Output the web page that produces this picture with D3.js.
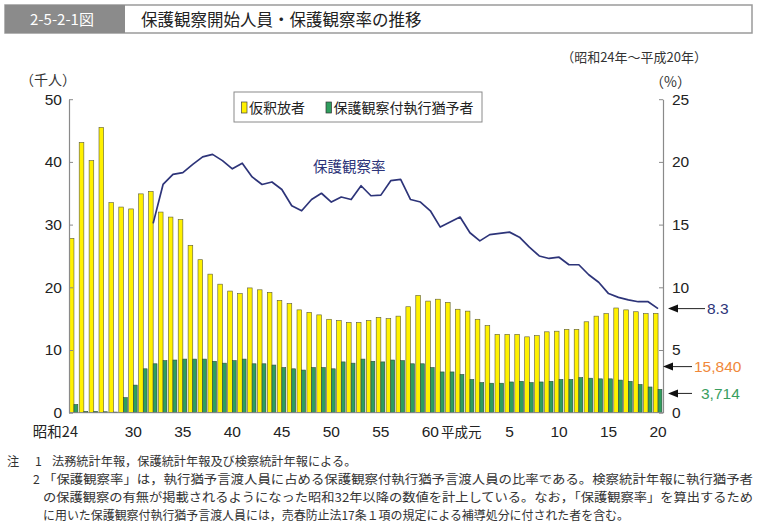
<!DOCTYPE html>
<html><head><meta charset="utf-8">
<script src="https://cdn.jsdelivr.net/npm/d3@7"></script>
<style>
body{margin:0;background:#fff;}
svg{display:block;}
</style></head>
<body>
<svg id="chart" width="759" height="524"></svg>
<script>
// ---- data ----
const years = [1949,1950,1951,1952,1953,1954,1955,1956,1957,1958,1959,1960,1961,1962,1963,1964,1965,1966,1967,1968,1969,1970,1971,1972,1973,1974,1975,1976,1977,1978,1979,1980,1981,1982,1983,1984,1985,1986,1987,1988,1989,1990,1991,1992,1993,1994,1995,1996,1997,1998,1999,2000,2001,2002,2003,2004,2005,2006,2007,2008];
// 仮釈放者 (千人)
const parolees = [27.8,43.1,40.2,45.5,33.5,32.8,32.5,34.9,35.3,32.0,31.2,30.8,26.7,24.4,22.1,20.5,19.4,19.0,19.9,19.6,19.2,17.9,17.4,16.4,16.0,15.6,14.9,14.7,14.4,14.4,14.7,15.2,15.0,15.4,16.9,18.7,17.8,18.1,17.6,16.5,16.2,14.9,13.9,12.5,12.5,12.5,12.1,12.3,12.9,13.0,13.3,13.3,14.5,15.4,15.8,16.7,16.4,16.1,15.8,15.84];
// 保護観察付執行猶予者 (千人)
const probationers = [1.3,0.2,0.2,0.15,0.1,2.4,4.4,7.0,7.8,8.3,8.4,8.55,8.55,8.55,8.2,7.9,8.3,8.55,7.8,7.8,7.6,7.2,7.0,6.8,7.2,7.2,7.0,8.1,7.9,8.55,8.2,8.1,8.4,8.3,7.8,7.8,7.2,6.5,6.5,6.1,5.3,4.8,4.7,4.7,4.9,5.0,4.8,4.9,5.0,5.3,5.3,5.6,5.5,5.4,5.4,5.2,5.0,4.5,4.1,3.714];
// 保護観察率 (%)
const rate = [null,null,null,null,null,null,null,null,15.1,18.2,19.0,19.15,19.8,20.4,20.6,20.1,19.45,19.9,18.8,18.2,18.4,17.8,16.5,16.1,17.0,17.5,16.8,17.2,17.0,18.1,17.3,17.35,18.5,18.6,17.0,16.8,16.1,14.8,15.2,15.6,14.35,13.7,14.2,14.3,14.4,14.0,13.2,12.5,12.3,12.4,11.8,11.8,11.0,10.4,9.5,9.2,9.0,8.85,8.85,8.3];
// x tick labels
const xTickYears = [1949,1955,1960,1965,1970,1975,1980,1985,1989,1993,1998,2003,2008];
const xTickLabels = ["昭和24","30","35","40","45","50","55","60","平成元","5","10","15","20"];
const leftTicks = [0,10,20,30,40,50];
const rightTicks = [0,5,10,15,20,25];
const seriesNames = ["仮釈放者","保護観察付執行猶予者"];
const lineName = "保護観察率";
const finalLabels = ["8.3","15,840","3,714"];
const title = "保護観察開始人員・保護観察率の推移";
const figNo = "2-5-2-1図";
const period = "（昭和24年～平成20年）";
const notes = [
  "法務統計年報，保護統計年報及び検察統計年報による。",
  "「保護観察率」は，執行猶予言渡人員に占める保護観察付執行猶予言渡人員の比率である。検察統計年報に執行猶予者",
  "の保護観察の有無が掲載されるようになった昭和32年以降の数値を計上している。なお，「保護観察率」を算出するため",
  "に用いた保護観察付執行猶予言渡人員には，売春防止法17条１項の規定による補導処分に付された者を含む。"
];

// ---- layout ----
const svg = d3.select("#chart");
const L = 69, R = 663, T = 99.2, B = 412.7;
const NUM = "'Liberation Sans', Arial, sans-serif";
const JP = "'Noto Sans CJK JP', sans-serif";
const YELLOW = "#fff100", GREEN = "#2f9e5e", NAVY = "#2d3479";

const x = d3.scaleBand().domain(years).range([L, R]).padding(0);
const bw = x.bandwidth();
const y = d3.scaleLinear().domain([0, 50]).range([B, T]);
const y2 = d3.scaleLinear().domain([0, 25]).range([B, T]);

// title bar
svg.append("rect").attr("x",5).attr("y",5).attr("width",747).attr("height",28)
  .attr("fill","#fff").attr("stroke","#9a9a9a").attr("stroke-width",1.5);
svg.append("rect").attr("x",5).attr("y",5).attr("width",120).attr("height",28).attr("fill","#8b8b8b");
svg.append("text").attr("x",62).attr("y",25).attr("text-anchor","middle")
  .attr("font-family",JP).attr("font-size",15).attr("fill","#fff").text(figNo);
svg.append("text").attr("x",141).attr("y",25.5)
  .attr("font-family",JP).attr("font-size",16.5).attr("fill","#222").text(title);

svg.append("text").attr("x",707).attr("y",62).attr("text-anchor","end")
  .attr("font-family",JP).attr("font-size",13).attr("fill","#333").text(period);
svg.append("text").attr("x",20).attr("y",85)
  .attr("font-family",JP).attr("font-size",14).attr("fill","#333").text("（千人）");
svg.append("text").attr("x",650).attr("y",87)
  .attr("font-family",JP).attr("font-size",14).attr("fill","#333").text("（%）");

// bars
const gBars = svg.append("g");
gBars.selectAll("rect.y").data(years).enter().append("rect")
  .attr("x", d => x(d) + 0.3)
  .attr("width", bw * 0.47)
  .attr("y", (d,i) => y(parolees[i]))
  .attr("height", (d,i) => B - y(parolees[i]))
  .attr("fill", YELLOW).attr("stroke","#5a5a3a").attr("stroke-width",0.6);
gBars.selectAll("rect.g").data(years).enter().append("rect")
  .attr("x", d => x(d) + bw * 0.5)
  .attr("width", bw * 0.39)
  .attr("y", (d,i) => y(probationers[i]))
  .attr("height", (d,i) => B - y(probationers[i]))
  .attr("fill", GREEN).attr("stroke","#2f4a3a").attr("stroke-width",0.6);

// axes
const axL = svg.append("g").attr("transform",`translate(${L},0)`)
  .call(d3.axisLeft(y).tickValues(leftTicks).tickSizeInner(-4).tickSizeOuter(0).tickPadding(7));
const axR = svg.append("g").attr("transform",`translate(${R},0)`)
  .call(d3.axisRight(y2).tickValues(rightTicks).tickSizeInner(-4).tickSizeOuter(0).tickPadding(9));
[axL, axR].forEach(a => {
  a.select(".domain").attr("stroke","#8a8a8a").attr("stroke-width",1.2);
  a.selectAll(".tick line").attr("stroke","#8a8a8a");
  a.selectAll(".tick text").attr("font-family",NUM).attr("font-size",15.5).attr("fill","#222");
});
svg.append("line").attr("x1",L).attr("x2",R).attr("y1",B).attr("y2",B)
  .attr("stroke","#8a8a8a").attr("stroke-width",1);

// x labels
const cx = d => x(d) + bw / 2;
xTickYears.forEach((yr, i) => {
  const lab = xTickLabels[i];
  const t = svg.append("text").attr("y", 437).attr("fill","#222").text(lab);
  if (lab === "昭和24") {
    t.attr("x", cx(yr) + 4).attr("text-anchor","end").attr("font-family",JP).attr("font-size",14.5);
  } else if (lab === "平成元") {
    t.attr("x", cx(yr) - 29).attr("text-anchor","start").attr("font-family",JP).attr("font-size",13.5);
  } else {
    t.attr("x", cx(yr)).attr("text-anchor","middle").attr("font-family",NUM).attr("font-size",15.5);
  }
});

// line
const lineGen = d3.line().defined(d => d[1] != null).x(d => cx(d[0])).y(d => y2(d[1]));
svg.append("path").datum(years.map((yr,i) => [yr, rate[i]]))
  .attr("d", lineGen).attr("fill","none").attr("stroke",NAVY).attr("stroke-width",1.7)
  .attr("stroke-linejoin","round");
svg.append("text").attr("x",313).attr("y",172).attr("font-family",JP).attr("font-size",14.5)
  .attr("fill",NAVY).text(lineName);

// legend
svg.append("rect").attr("x",234).attr("y",92).attr("width",248).attr("height",30)
  .attr("fill","#fff").attr("stroke","#8a8a8a").attr("stroke-width",1);
svg.append("rect").attr("x",241.5).attr("y",102).attr("width",5.5).attr("height",11)
  .attr("fill",YELLOW).attr("stroke","#444").attr("stroke-width",0.7);
svg.append("text").attr("x",249).attr("y",112.5).attr("font-family",JP).attr("font-size",14)
  .attr("fill","#222").text(seriesNames[0]);
svg.append("rect").attr("x",326).attr("y",102).attr("width",5.5).attr("height",11)
  .attr("fill",GREEN).attr("stroke","#333").attr("stroke-width",0.7);
svg.append("text").attr("x",333.5).attr("y",112.5).attr("font-family",JP).attr("font-size",14)
  .attr("fill","#222").text(seriesNames[1]);

// end annotations
const last = years.length - 1;
const ann = [
  {yy: y2(rate[last]), tip: 668, tail: 705, tx: 707, color: NAVY, label: finalLabels[0]},
  {yy: y2(rate[last]) + 58, tip: 663, tail: 692, tx: 694, color: "#f0883a", label: finalLabels[1]},
  {yy: y(probationers[last]) + 4, tip: 668, tail: 692, tx: 701, color: "#3a9e5f", label: finalLabels[2]}
];
ann.forEach(a => {
  svg.append("line").attr("x1",a.tip+8).attr("x2",a.tail).attr("y1",a.yy).attr("y2",a.yy)
    .attr("stroke","#222").attr("stroke-width",1);
  svg.append("path").attr("d",`M${a.tip},${a.yy} L${a.tip+10},${a.yy-4} L${a.tip+10},${a.yy+4} Z`)
    .attr("fill","#111");
  svg.append("text").attr("x",a.tx).attr("y",a.yy+5.5).attr("font-family",NUM).attr("font-size",15.5)
    .attr("fill",a.color).text(a.label);
});

// notes
const NOTEF = "'Noto Sans CJK JP', sans-serif";
const NS = 12.2;
svg.append("text").attr("x",7).attr("y",465.5).attr("font-family",NOTEF).attr("font-size",NS).attr("fill","#333").text("注");
svg.append("text").attr("x",35).attr("y",465.5).attr("font-family",NOTEF).attr("font-size",NS).attr("fill","#333").text("1");
svg.append("text").attr("x",33).attr("y",484).attr("font-family",NOTEF).attr("font-size",NS).attr("fill","#333").text("2");
const noteX = [52, 43, 43, 43], noteY = [465.5, 484, 502, 519.5], noteW = [null, 710, 710, 586];
notes.forEach((n, i) => {
  const t = svg.append("text").attr("x",noteX[i]).attr("y",noteY[i]).attr("font-family",NOTEF)
    .attr("font-size",NS).attr("fill","#333").text(n);
  if (noteW[i]) t.attr("textLength",noteW[i]).attr("lengthAdjust","spacingAndGlyphs");
});
</script>
</body></html>
